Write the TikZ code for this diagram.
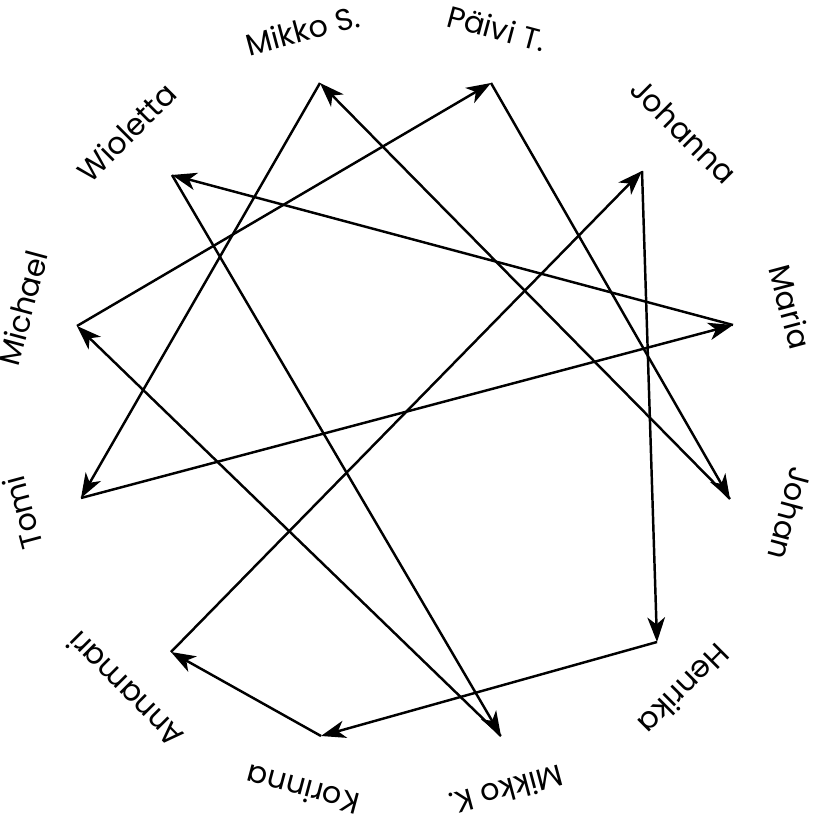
\documentclass[tikz,border=0pt]{standalone}
\usepackage{fontspec}
\setmainfont{Poppins}
\usetikzlibrary{arrows.meta}
\tikzset{person/.style={font=\fontsize{8.6}{10}\selectfont,anchor=base,inner sep=0pt},giver/.style={-{Stealth[length=7pt,width=5pt,inset=2pt]},line width=0.7pt}}

\begin{document}
\begin{tikzpicture}
\useasboundingbox (-4.045,-4.095) rectangle (4.145,4.105);
% points on the circle
\coordinate (pt) at (0.865,3.275);
\coordinate (ms) at (-0.845,3.275);
\coordinate (wi) at (-2.325,2.355);
\coordinate (mi) at (-3.275,0.845);
\coordinate (tm) at (-3.235,-0.875);
\coordinate (an) at (-2.335,-2.415);
\coordinate (ko) at (-0.835,-3.255);
\coordinate (mk) at (0.965,-3.255);
\coordinate (he) at (2.525,-2.315);
\coordinate (jh) at (3.255,-0.885);
\coordinate (ma) at (3.285,0.855);
\coordinate (jo) at (2.375,2.395);
% names
\node[person, rotate=-15] (ptl) at (76.5:3.82) {Päivi T.};
\node[person, rotate=15] (msl) at (105:3.82) {Mikko S.};
\node[person, rotate=45] (wil) at (135:3.82) {Wioletta};
\node[person, rotate=75] (mil) at (165:3.84) {Michael};
\node[person, rotate=105] (tml) at (195:3.84) {Tomi};
\node[person, rotate=135] (anl) at (225:3.84) {Annamari};
\node[person, rotate=165] (kol) at (255:3.82) {Korinna};
\node[person, rotate=195] (mkl) at (285:3.82) {Mikko K.};
\node[person, rotate=225] (hel) at (315:3.84) {Henrika};
\node[person, rotate=255] (jhl) at (345:3.88) {Johan};
\node[person, rotate=-75] (mal) at (15:3.88) {Maria};
\node[person, rotate=-45] (jol) at (45:3.84) {Johanna};
% who gives to whom
\draw[giver] (ms) -- (tm);
\draw[giver] (tm) -- (ma);
\draw[giver] (ma) -- (wi);
\draw[giver] (wi) -- (mk);
\draw[giver] (mk) -- (mi);
\draw[giver] (mi) -- (pt);
\draw[giver] (pt) -- (jh);
\draw[giver] (jh) -- (ms);
\draw[giver] (an) -- (jo);
\draw[giver] (jo) -- (he);
\draw[giver] (he) -- (ko);
\draw[giver] (ko) -- (an);
\end{tikzpicture}
\end{document}
